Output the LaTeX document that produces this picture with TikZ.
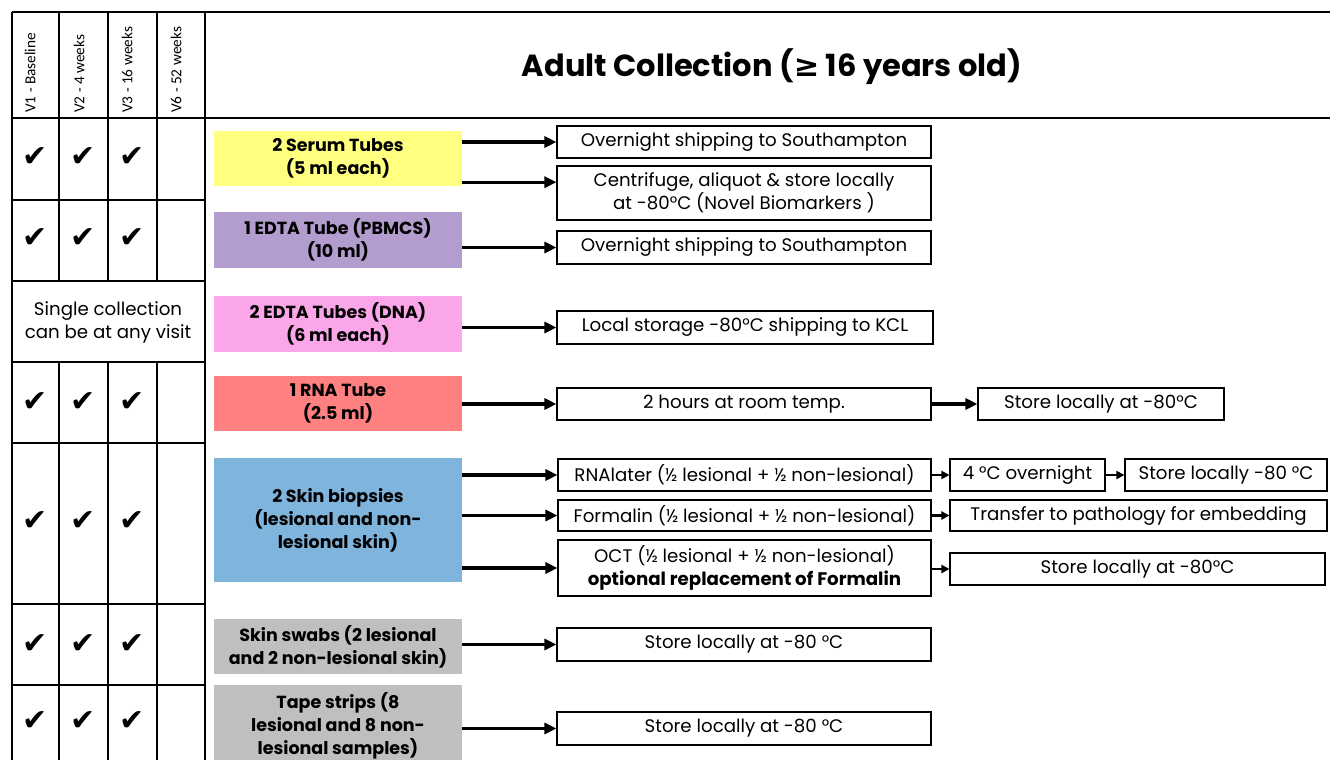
\documentclass[tikz,border=0pt]{standalone}
\usepackage{fontspec}
\setmainfont{Poppins}
\newfontfamily\hdrfont{Carlito}
\newfontfamily\symfont{DejaVu Sans}
\usetikzlibrary{arrows.meta,calc}
\definecolor{serumcol}{RGB}{255,255,128}
\definecolor{pbmccol}{RGB}{179,157,207}
\definecolor{dnacol}{RGB}{250,166,232}
\definecolor{rnacol}{RGB}{255,128,128}
\definecolor{biopcol}{RGB}{127,180,220}
\definecolor{swabcol}{RGB}{191,191,191}

\begin{document}
\begin{tikzpicture}[x=1pt, y=-1pt,
		grid/.style={line width=1.2pt},
		tube/.style={inner sep=0pt, minimum width=248pt, minimum height=55pt, align=center, font=\fontsize{17.5}{23}\selectfont\bfseries},
		proc/.style={draw, line width=1.1pt, inner sep=0pt, minimum width=374pt, minimum height=32pt, align=center, font=\fontsize{18.2}{23}\selectfont},
		arr/.style={line width=3.2pt, -{Triangle[length=12pt,width=11pt]}},
		sarr/.style={line width=2.2pt, -{Triangle[length=8pt,width=8pt]}},
		tick/.style={font=\symfont\fontsize{30}{30}\selectfont},
		visit/.style={rotate=90, anchor=west, inner sep=0pt, font=\hdrfont\fontsize{15.3}{15.3}\selectfont}]
		\clip (0,0) rectangle (1330,760);
		\draw[grid] (12,12) -- (1330,12);
		\draw[grid] (12,118) -- (1330,118);
		\draw[grid] (12,12) -- (12,760);
		\draw[grid] (205,12) -- (205,760);
		\foreach \yy in {200,281,362,443,604,685}
			\draw[grid] (12,\yy) -- (205,\yy);
		\foreach \xx in {59,108,157} {
			\draw[grid] (\xx,12) -- (\xx,281);
			\draw[grid] (\xx,362) -- (\xx,760);
		}
		\node[visit] (v1) at (30,113) {V1 - Baseline};
		\node[visit] (v2) at (79,113) {V2 - 4 weeks};
		\node[visit] (v3) at (127,113) {V3 - 16 weeks};
		\node[visit] (v6) at (176,113) {V6 - 52 weeks};
		\node[font=\fontsize{30.5}{30.5}\selectfont\bfseries] (title) at (772,67) {Adult Collection ({\symfont ≥} 16 years old)};
		\foreach \r/\yy in {1/157,2/238,4/402,5/521,6/644,7/721}
			\foreach \c/\xx in {1/35,2/83,3/132}
				\node[tick] (ck\r\c) at (\xx,\yy) {✔};
		\node[font=\fontsize{18.2}{23}\selectfont, align=center] (single) at (108,322.5) {Single collection\\can be at any visit};
		\node[tube, fill=serumcol] (serum) at (338,158.5) {2 Serum Tubes\\(5 ml each)};
		\node[tube, fill=pbmccol, minimum height=56pt] (pbmc) at (338,240) {1 EDTA Tube (PBMCS)\\(10 ml)};
		\node[tube, fill=dnacol, minimum height=56pt] (dna) at (338,324) {2 EDTA Tubes (DNA)\\(6 ml each)};
		\node[tube, fill=rnacol] (rna) at (338,403.5) {1 RNA Tube\\(2.5 ml)};
		\node[tube, fill=biopcol, minimum height=124pt] (biop) at (338,520) {2 Skin biopsies\\(lesional and non-\\lesional skin)};
		\node[tube, fill=swabcol] (swab) at (338,646.5) {Skin swabs (2 lesional\\and 2 non-lesional skin)};
		\node[tube, fill=swabcol, minimum height=82pt] (tape) at (338,726) {Tape strips (8\\lesional and 8 non-\\lesional samples)};
		\node[proc] (ship1) at (744,142) {Overnight shipping to Southampton};
		\node[proc, minimum height=54pt] (cent) at (744,193) {Centrifuge, aliquot \& store locally\\at -80°C (Novel Biomarkers )};
		\node[proc, minimum height=33pt] (ship2) at (744,247.5) {Overnight shipping to Southampton};
		\node[proc, minimum width=376pt, minimum height=33pt] (kcl) at (745,327.5) {Local storage -80°C shipping to KCL};
		\node[proc] (room) at (744,404) {2 hours at room temp.};
		\node[proc, minimum width=246pt] (store1) at (1101,404) {Store locally at -80°C};
		\node[proc, minimum width=373pt] (rnal) at (744.5,475) {RNAlater (½ lesional + ½ non-lesional)};
		\node[proc, minimum width=155pt] (fourc) at (1027.5,475) {4 °C overnight};
		\node[proc, minimum width=202pt] (store2) at (1226,475) {Store locally -80 °C};
		\node[proc, minimum width=373pt, minimum height=31pt] (form) at (744.5,515.5) {Formalin (½ lesional + ½ non-lesional)};
		\node[proc, minimum width=377pt, minimum height=31pt] (path) at (1138.5,515.5) {Transfer to pathology for embedding};
		\node[proc, minimum width=373pt, minimum height=56pt] (oct) at (744.5,568) {OCT (½ lesional + ½ non-lesional)\\\textbf{optional replacement of Formalin}};
		\node[proc, minimum width=375pt] (store3) at (1137.5,569) {Store locally at -80°C};
		\node[proc, minimum height=33pt] (swst) at (744,644.5) {Store locally at -80 °C};
		\node[proc, minimum height=33pt] (tpst) at (744,728.5) {Store locally at -80 °C};
		\coordinate (s2) at ([yshift=4pt]serum.south east);
		\draw[arr] (serum.east |- ship1.west) -- (ship1.west);
		\draw[arr] (s2) -- (s2 -| cent.west);
		\draw[arr] (pbmc.east |- ship2.west) -- (ship2.west);
		\draw[arr] (dna.east |- kcl.west) -- (kcl.west);
		\draw[arr] (rna.east |- room.west) -- (room.west);
		\draw[arr] (room.east) -- (store1.west);
		\draw[arr] (biop.east |- rnal.west) -- (rnal.west);
		\draw[arr] (biop.east |- form.west) -- (form.west);
		\draw[arr] (biop.east |- oct.west) -- (oct.west);
		\draw[sarr] (rnal.east) -- (fourc.west);
		\draw[sarr] (fourc.east) -- (store2.west);
		\draw[sarr] (form.east) -- (path.west);
		\draw[sarr] (oct.east |- store3.west) -- (store3.west);
		\draw[arr] (swab.east |- swst.west) -- (swst.west);
		\draw[arr] (tape.east |- tpst.west) -- (tpst.west);
	\end{tikzpicture}
\end{document}
